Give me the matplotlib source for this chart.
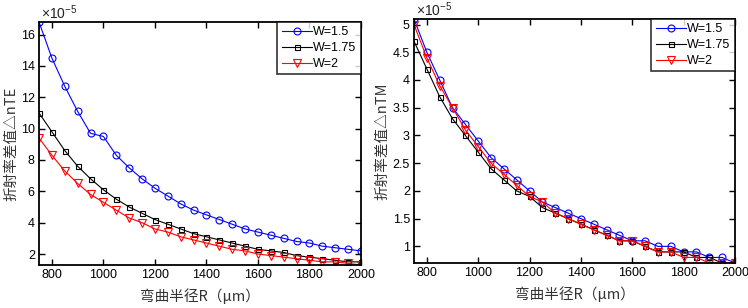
"""
Bend-radius dependence of the effective index difference (TE / TM) for three waveguide widths.
"""
import matplotlib
matplotlib.use("Agg")
import matplotlib.pyplot as plt
from matplotlib.ticker import FormatStrFormatter

plt.rcParams['font.family'] = ['Liberation Sans', 'Noto Sans CJK SC', 'DejaVu Sans']
plt.rcParams['mathtext.fontset'] = 'custom'
plt.rcParams['mathtext.rm'] = 'Liberation Sans'

# bend radius R (um)
radius = list(range(750, 2001, 50))

# delta n, TE, in units of 1e-5
te_w150 = [16.8, 14.5, 12.7, 11.1, 9.7, 9.5, 8.3, 7.5, 6.8, 6.2, 5.7, 5.2, 4.8,
           4.5, 4.2, 3.9, 3.6, 3.4, 3.2, 3.0, 2.8, 2.7, 2.5, 2.4, 2.3, 2.2]
te_w175 = [11.0, 9.8, 8.6, 7.6, 6.8, 6.1, 5.5, 5.0, 4.6, 4.2, 3.9, 3.6, 3.3,
           3.1, 2.9, 2.7, 2.5, 2.3, 2.2, 2.1, 1.9, 1.8, 1.7, 1.6, 1.5, 1.5]
te_w200 = [9.4, 8.3, 7.3, 6.5, 5.8, 5.3, 4.8, 4.3, 4.0, 3.6, 3.4, 3.1, 2.9,
           2.7, 2.5, 2.3, 2.2, 2.0, 1.9, 1.8, 1.7, 1.6, 1.5, 1.5, 1.4, 1.3]

# delta n, TM, in units of 1e-5
tm_w150 = [5.1, 4.5, 4.0, 3.5, 3.2, 2.9, 2.6, 2.4, 2.2, 2.0, 1.8, 1.7, 1.6,
           1.5, 1.4, 1.3, 1.2, 1.1, 1.1, 1.0, 1.0, 0.9, 0.9, 0.8, 0.8, 0.7]
tm_w175 = [4.7, 4.2, 3.7, 3.3, 3.0, 2.7, 2.4, 2.2, 2.0, 1.9, 1.7, 1.6, 1.5,
           1.4, 1.3, 1.2, 1.1, 1.1, 1.0, 0.9, 0.9, 0.9, 0.8, 0.8, 0.7, 0.7]
tm_w200 = [5.0, 4.4, 3.9, 3.5, 3.1, 2.8, 2.5, 2.3, 2.1, 1.9, 1.8, 1.6, 1.5,
           1.4, 1.3, 1.2, 1.1, 1.1, 1.0, 0.9, 0.9, 0.8, 0.8, 0.7, 0.7, 0.7]

labels = ['W=1.5', 'W=1.75', 'W=2']
colors = ['#0000ff', '#000000', '#ff0000']
markers = [('o', 5.0), ('s', 3.6), ('v', 5.2)]

x_ticks = [800, 1000, 1200, 1400, 1600, 1800, 2000]
te_ticks = [2, 4, 6, 8, 10, 12, 14, 16]
tm_ticks = [1, 1.5, 2, 2.5, 3, 3.5, 4, 4.5, 5]

fig = plt.figure(figsize=(7.48, 3.08), dpi=100)
ax1 = fig.add_axes([39 / 748, 1 - 265 / 308, 322 / 748, 243 / 308])
ax2 = fig.add_axes([414 / 748, 1 - 263 / 308, 321 / 748, 244 / 308])


def draw(ax, series, yticks, ylim, ylabel):
    for vals, lab, c, (m, ms) in zip(series, labels, colors, markers):
        ax.plot(radius, vals, color=c, lw=0.8, marker=m,
                ms=ms, mfc='none', mec=c, mew=0.8, label=lab)
    ax.set_xlim(750, 2000)
    ax.set_ylim(*ylim)
    ax.set_xticks(x_ticks)
    ax.set_yticks(yticks)
    ax.yaxis.set_major_formatter(FormatStrFormatter('%g'))
    ax.text(0.005, 1.0, r'$\times 10^{-5}$', transform=ax.transAxes, fontsize=10,
            ha='left', va='bottom', color='#222222')
    ax.tick_params(direction='in', top=True, right=True, length=4, width=1.0,
                   labelsize=9, pad=3)
    for sp in ax.spines.values():
        sp.set_linewidth(1.3)
    ax.set_xlabel('弯曲半径R（μm）', fontsize=10.5, color='#333333', labelpad=5,
                  family=['Noto Sans CJK SC', 'DejaVu Sans'])
    ax.set_ylabel(ylabel, fontsize=10.5, color='#333333', labelpad=2,
                  family=['Noto Sans CJK SC', 'DejaVu Sans'])
    leg = ax.legend(loc='upper right', fontsize=9, frameon=True, fancybox=False,
                    edgecolor='black', borderaxespad=0, handlelength=2.4,
                    labelspacing=0.3, borderpad=0.35, handletextpad=0.15)
    leg.get_frame().set_linewidth(1.2)


draw(ax1, [te_w150, te_w175, te_w200], te_ticks, (1.3, 16.8), '折射率差值△nTE')
draw(ax2, [tm_w150, tm_w175, tm_w200], tm_ticks, (0.7, 5.1), '折射率差值△nTM')

fig.savefig('out.png', dpi=100)
